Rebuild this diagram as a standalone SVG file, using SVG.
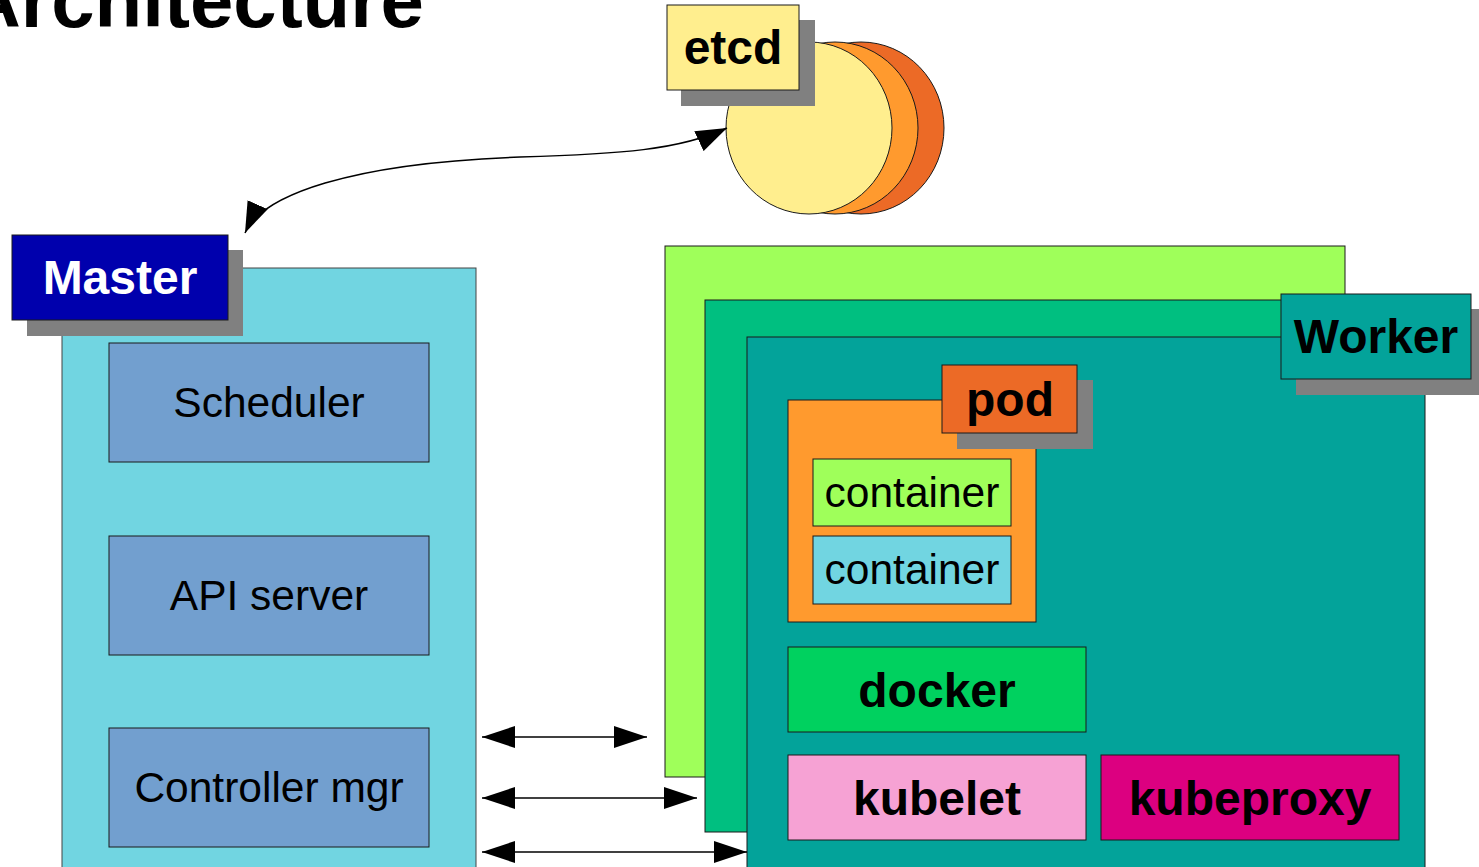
<svg xmlns="http://www.w3.org/2000/svg" width="1479" height="867" viewBox="0 0 1479 867">
<style>
.bx{stroke:#1a1a1a;stroke-width:1}
.sh{fill:#808080}
.bold{font-family:"Liberation Sans",Arial,sans-serif;font-weight:bold;font-size:48px;text-anchor:middle}
.reg{font-family:"Liberation Sans",Arial,sans-serif;font-size:42.5px;text-anchor:middle;fill:#000}
.conn{fill:none;stroke:#000;stroke-width:1.5}
</style>
<defs>
<marker id="ah" viewBox="0 0 33 22" refX="33" refY="11" markerWidth="33" markerHeight="22" markerUnits="userSpaceOnUse" orient="auto-start-reverse">
<path d="M0,0 L33,11 L0,22 z" fill="#000"/>
</marker>
<marker id="ah2" viewBox="0 0 31 22" refX="31" refY="11" markerWidth="31" markerHeight="22" markerUnits="userSpaceOnUse" orient="auto-start-reverse">
<path d="M0,0 L31,11 L0,22 z" fill="#000"/>
</marker>
</defs>
<rect width="1479" height="867" fill="#fff"/>

<g id="title">
<text x="424" y="27" font-family="'Liberation Sans',Arial,sans-serif" font-weight="bold" font-size="78" text-anchor="end" fill="#000">Architecture</text>
</g>

<g id="etcd">
<ellipse cx="861" cy="128" rx="83" ry="86" fill="#ec6a26" class="bx"/>
<ellipse cx="835" cy="128" rx="83" ry="86" fill="#ff9a2e" class="bx"/>
<ellipse cx="809" cy="128" rx="83" ry="86" fill="#ffee8e" class="bx"/>
<rect x="681" y="20" width="134" height="86" class="sh"/>
<rect x="667" y="5" width="132" height="85" fill="#ffee8e" class="bx"/>
<text x="733" y="64" class="bold" fill="#000">etcd</text>
</g>

<g id="master">
<rect x="62" y="268" width="414" height="620" fill="#71d5e1" stroke="#444" stroke-width="1"/>
<rect x="27" y="250" width="216" height="86" class="sh"/>
<rect x="12" y="235" width="216" height="85" fill="#0000ad" class="bx"/>
<text x="120" y="294" class="bold" fill="#fff">Master</text>
</g>

<g id="scheduler">
<rect x="109" y="343" width="320" height="119" fill="#729fcf" class="bx"/>
<text x="269" y="417" class="reg">Scheduler</text>
</g>
<g id="apiserver">
<rect x="109" y="536" width="320" height="119" fill="#729fcf" class="bx"/>
<text x="269" y="610" class="reg">API server</text>
</g>
<g id="controller">
<rect x="109" y="728" width="320" height="119" fill="#729fcf" class="bx"/>
<text x="269" y="802" class="reg">Controller mgr</text>
</g>

<g id="worker-nodes">
<rect x="665" y="246" width="680" height="531" fill="#9fff5a" class="bx"/>
<rect x="705" y="300" width="680" height="532" fill="#00bf80" class="bx"/>
<rect x="747" y="337" width="678" height="560" fill="#03a39a" class="bx"/>
</g>

<g id="worker-label">
<rect x="1296" y="309" width="190" height="86" class="sh"/>
<rect x="1281" y="294" width="190" height="85" fill="#03a39a" class="bx"/>
<text x="1376" y="353" class="bold" fill="#000">Worker</text>
</g>

<g id="pod">
<rect x="788" y="400" width="248" height="222" fill="#ff9a2e" class="bx"/>
<rect x="957" y="380" width="136" height="69" class="sh"/>
<rect x="942" y="365" width="135" height="68" fill="#ec6a26" class="bx"/>
<text x="1010" y="416" class="bold" fill="#000">pod</text>
</g>
<g id="container1">
<rect x="813" y="459" width="198" height="67" fill="#9fff5a" class="bx"/>
<text x="912" y="507" class="reg">container</text>
</g>
<g id="container2">
<rect x="813" y="536" width="198" height="68" fill="#71d5e1" class="bx"/>
<text x="912" y="584" class="reg">container</text>
</g>

<g id="docker">
<rect x="788" y="647" width="298" height="85" fill="#00d15f" class="bx"/>
<text x="937" y="707" class="bold" fill="#000">docker</text>
</g>
<g id="kubelet">
<rect x="788" y="755" width="298" height="85" fill="#f6a2d4" class="bx"/>
<text x="937" y="815" class="bold" fill="#000">kubelet</text>
</g>
<g id="kubeproxy">
<rect x="1101" y="755" width="298" height="85" fill="#dc0080" class="bx"/>
<text x="1250" y="815" class="bold" fill="#000">kubeproxy</text>
</g>

<g id="connectors">
<path class="conn" d="M245,233 C262,195 350,163 520,157 C620,154 680,150 727,128" marker-start="url(#ah2)" marker-end="url(#ah2)"/>
<line class="conn" x1="482" y1="737" x2="647" y2="737" marker-start="url(#ah)" marker-end="url(#ah)"/>
<line class="conn" x1="482" y1="798" x2="697" y2="798" marker-start="url(#ah)" marker-end="url(#ah)"/>
<line class="conn" x1="482" y1="852" x2="747" y2="852" marker-start="url(#ah)" marker-end="url(#ah)"/>
</g>
</svg>
